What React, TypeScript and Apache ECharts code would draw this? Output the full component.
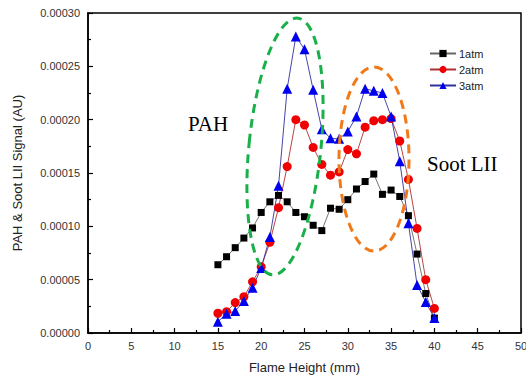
import React, { useEffect, useRef } from "react";
import * as echarts from "echarts";

const heights = [15, 16, 17, 18, 19, 20, 21, 22, 23, 24, 25, 26, 27, 28, 29, 30, 31, 32, 33, 34, 35, 36, 37, 38, 39, 40];
const atm1 = [6.4e-5, 7.15e-5, 8.0e-5, 8.9e-5, 9.85e-5, 1.13e-4, 1.23e-4, 1.29e-4, 1.23e-4, 1.13e-4, 1.09e-4, 1.01e-4, 9.6e-5, 1.17e-4, 1.16e-4, 1.25e-4, 1.35e-4, 1.42e-4, 1.49e-4, 1.30e-4, 1.34e-4, 1.28e-4, 1.10e-4, 7.4e-5, 3.7e-5, 1.4e-5];
const atm2 = [1.85e-5, 2.0e-5, 2.85e-5, 3.4e-5, 4.8e-5, 6.2e-5, 8.5e-5, 1.175e-4, 1.56e-4, 2.0e-4, 1.95e-4, 1.74e-4, 1.58e-4, 1.48e-4, 1.51e-4, 1.72e-4, 1.68e-4, 1.93e-4, 1.99e-4, 2.0e-4, 2.01e-4, 1.8e-4, 1.44e-4, 9.8e-5, 5.0e-5, 2.3e-5];
const atm3 = [1.06e-5, 1.8e-5, 2.06e-5, 3.0e-5, 4.25e-5, 6.1e-5, 9.0e-5, 1.38e-4, 2.29e-4, 2.78e-4, 2.66e-4, 2.28e-4, 1.91e-4, 1.825e-4, 1.82e-4, 1.89e-4, 2.03e-4, 2.29e-4, 2.27e-4, 2.25e-4, 2.03e-4, 1.61e-4, 1.03e-4, 4.5e-5, 2.9e-5, 1.4e-5];
const seriesNames = ["1atm", "2atm", "3atm"];

const pair = (vals: number[]) => heights.map((h, i) => [h, vals[i]]);

export default function App() {
  const ref = useRef<HTMLDivElement>(null);
  useEffect(() => {
    if (!ref.current) return;
    const chart = echarts.init(ref.current, undefined, { renderer: "svg" });
    const font = "Liberation Sans, Arial, sans-serif";
    chart.setOption({
      animation: false,
      backgroundColor: "#fff",
      grid: {
        left: 88, right: 5, top: 13, bottom: 47,
        outerBoundsMode: "none",
        containLabel: false,
        show: true, borderColor: "#000", borderWidth: 1.5, backgroundColor: "transparent",
      },
      legend: {
        orient: "vertical",
        left: 424,
        top: 43,
        itemGap: 5,
        itemWidth: 26,
        itemHeight: 9,
        textStyle: { fontFamily: font, fontSize: 11, color: "#222", padding: [0, 0, 0, -2] },
        data: seriesNames,
      },
      xAxis: {
        type: "value",
        min: 0,
        max: 50,
        interval: 5,
        name: "Flame Height (mm)",
        nameLocation: "middle",
        nameGap: 28,
        nameTextStyle: { fontFamily: font, fontSize: 13, color: "#222" },
        axisLine: { show: true, lineStyle: { color: "#000", width: 1.5 } },
        axisTick: { show: true, inside: true, length: 5, lineStyle: { color: "#000", width: 1.2 } },
        minorTick: { show: true, splitNumber: 2, length: 3, lineStyle: { color: "#000", width: 1.2 } },
        axisLabel: { fontFamily: font, fontSize: 11, color: "#333", margin: 7 },
        splitLine: { show: false },
      },
      yAxis: {
        type: "value",
        min: 0,
        max: 0.0003,
        interval: 0.00005,
        name: "PAH & Soot LII Signal (AU)",
        nameLocation: "middle",
        nameGap: 64,
        nameTextStyle: { fontFamily: font, fontSize: 13, color: "#222" },
        axisLine: { show: true, lineStyle: { color: "#000", width: 1.5 } },
        axisTick: { show: true, inside: true, length: 5, lineStyle: { color: "#000", width: 1.2 } },
        minorTick: { show: true, splitNumber: 2, length: 3, lineStyle: { color: "#000", width: 1.2 } },
        axisLabel: { fontFamily: font, fontSize: 11, color: "#333", margin: 8, formatter: (v: number) => v.toFixed(5) },
        splitLine: { show: false },
      },
      series: [
        {
          name: seriesNames[0],
          type: "line",
          data: pair(atm1),
          symbol: "rect",
          symbolSize: 7,
          itemStyle: { color: "#000" },
          lineStyle: { color: "#666", width: 0.9 },
        },
        {
          name: seriesNames[1],
          type: "line",
          data: pair(atm2),
          symbol: "circle",
          symbolSize: 9,
          itemStyle: { color: "#f00000" },
          lineStyle: { color: "#b03030", width: 0.9 },
        },
        {
          name: seriesNames[2],
          type: "line",
          data: pair(atm3),
          symbol: "triangle",
          symbolSize: 10,
          itemStyle: { color: "#0000ee" },
          lineStyle: { color: "#3030a0", width: 0.9 },
        },
      ],
      graphic: [
        {
          type: "ellipse",
          shape: { cx: 0, cy: 0, rx: 36, ry: 129 },
          x: 285,
          y: 146.5,
          rotation: -0.1,
          style: { fill: "none", stroke: "#19b04a", lineWidth: 3, lineDash: [9, 6] },
          silent: true,
          z: 10,
        },
        {
          type: "ellipse",
          shape: { cx: 0, cy: 0, rx: 35, ry: 92 },
          x: 374,
          y: 159,
          rotation: 0,
          style: { fill: "none", stroke: "#f07a1a", lineWidth: 3, lineDash: [9, 6] },
          silent: true,
          z: 10,
        },
        {
          type: "text",
          x: 188,
          y: 113,
          style: { text: "PAH", fontFamily: "Liberation Serif, Times New Roman, serif", fontSize: 21, fill: "#000" },
          silent: true,
        },
        {
          type: "text",
          x: 427,
          y: 153,
          style: { text: "Soot LII", fontFamily: "Liberation Serif, Times New Roman, serif", fontSize: 21, fill: "#000" },
          silent: true,
        },
      ],
    });
    return () => chart.dispose();
  }, []);
  return <div ref={ref} style={{ width: 526, height: 380, position: "absolute", left: 0, top: 0 }} />;
}
